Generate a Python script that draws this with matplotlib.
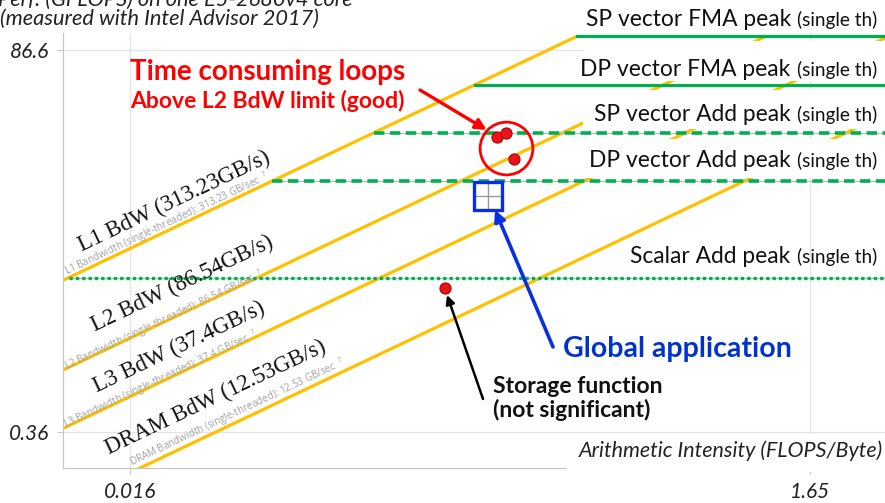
import math
import numpy as np
import matplotlib
matplotlib.use("Agg")
import matplotlib.pyplot as plt
from matplotlib.patches import Rectangle
from matplotlib.ticker import FixedLocator, NullLocator, FixedFormatter

W, H = 885, 503

# memory roofs (GB/s)
roof_names = ["L1", "L2", "L3", "DRAM"]
roof_bw = [313.23, 86.54, 37.4, 12.53]
roof_bw_txt = ["313.23", "86.54", "37.4", "12.53"]

# compute ceilings (GFLOPS)
peak_names = ["SP vector FMA peak", "DP vector FMA peak", "SP vector Add peak",
              "DP vector Add peak", "Scalar Add peak"]
peak_gflops = [105.6, 52.8, 26.4, 13.2, 3.3]
peak_style = ["solid", "solid", "dashed", "dashed", "dotted"]

# measured points (AI in FLOPS/Byte, perf in GFLOPS)
loops_ai = [0.195, 0.2075, 0.219]
loops_perf = [24.9, 26.3, 18.1]
storage_ai = [0.137]
storage_perf = [2.84]
app_ai = [0.1835]
app_perf = [10.66]

xticks = [0.016, 1.65]
yticks = [0.36, 86.6]
xlim = (0.010133, 2.749)
ylim = (0.2147, 110.6)

ORANGE = "#FFC000"
GREEN = "#00B050"
RED = "#FF0000"
BLUE = "#0a2ee0"
GRAY = "#a3a3a3"

plt.rcParams['font.family'] = ['Lato', 'DejaVu Sans']


def P(x, y):
    # figure pixel -> figure fraction
    return x / W, 1 - y / H


fig = plt.figure(figsize=(W / 100, H / 100), dpi=100)
ax = fig.add_axes([63 / W, 1 - 468 / H, (W - 63) / W, (468 - 33) / H])
ax.set_xscale("log")
ax.set_yscale("log")
ax.set_xlim(*xlim)
ax.set_ylim(*ylim)

ax.xaxis.set_major_locator(FixedLocator(xticks))
ax.yaxis.set_major_locator(FixedLocator(yticks))
ax.xaxis.set_minor_locator(NullLocator())
ax.yaxis.set_minor_locator(NullLocator())
ax.xaxis.set_major_formatter(FixedFormatter([str(v) for v in xticks]))
ax.yaxis.set_major_formatter(FixedFormatter([str(v) for v in yticks]))
ax.tick_params(length=4, color="#c8c8c8", labelsize=15, colors="#222222")
ax.tick_params(axis="y", pad=6)
ax.tick_params(axis="x", pad=6)
for lab in ax.get_xticklabels() + ax.get_yticklabels():
    lab.set_fontstyle("italic")
ax.grid(True, color="#e4e4e4", lw=0.9, zorder=0)
for s in ["top", "right"]:
    ax.spines[s].set_visible(False)
for s in ["left", "bottom"]:
    ax.spines[s].set_color("#c4c4c4")

top_peak = max(peak_gflops)

# memory roofs
for bw in roof_bw:
    x0 = xlim[0]
    x1 = min(xlim[1], top_peak / bw)
    ax.plot([x0, x1], [bw * x0, bw * x1], color=ORANGE, lw=2.3, zorder=2,
            solid_capstyle="butt")

# compute ceilings
for val, st in zip(peak_gflops, peak_style):
    x0 = val / roof_bw[0]
    if st == "solid":
        ax.plot([x0, xlim[1]], [val, val], color=GREEN, lw=2.3, zorder=2)
    elif st == "dashed":
        ax.plot([x0, xlim[1]], [val, val], color="#b8b8b8", lw=0.8, zorder=2)
        ax.plot([x0, xlim[1]], [val, val], color=GREEN, lw=2.6, zorder=2,
                ls=(0, (2.9, 1.5)))
    else:
        ax.plot([x0, xlim[1]], [val, val], color="#b8b8b8", lw=0.8, zorder=2)
        ax.plot([x0, xlim[1]], [val, val], color=GREEN, lw=2.4, zorder=2,
                ls=(0, (1.0, 0.9)))

# points
ax.plot(loops_ai, loops_perf, "o", ms=8, mfc="#e8141a", mec="#b00000",
        mew=0.8, zorder=5)
ax.plot(storage_ai, storage_perf, "o", ms=8, mfc="#e8141a", mec="#b00000",
        mew=0.8, zorder=5)
ax.plot(app_ai, app_perf, "+", ms=20, mec="#9a9a9a", mew=1.0, zorder=5)
ax.plot(app_ai, app_perf, "s", ms=20, mfc="none", mec=BLUE, mew=2.4, zorder=5)
ax.plot([np.mean(loops_ai)], [np.exp(np.mean(np.log(loops_perf))) * 0.93], "o",
        ms=38, mfc="none", mec=RED, mew=2.0, zorder=5)

# roof angle in display space
p1 = ax.transData.transform((0.02, 0.02 * 100))
p2 = ax.transData.transform((0.2, 0.2 * 100))
ang = math.degrees(math.atan2(p2[1] - p1[1], p2[0] - p1[0]))

# roof labels (big serif + small grey advisor labels)
big_xy = [(82, 252), (95, 332), (97, 393), (109, 455)]
small_xy = [(67, 275), (67, 370), (66, 428), (132, 466)]
for name, bwt, bxy, sxy in zip(roof_names, roof_bw_txt, big_xy, small_xy):
    fig.text(*P(*bxy), "%s BdW (%sGB/s)" % (name, bwt), family="Liberation Serif",
             fontsize=16.5, rotation=ang, rotation_mode="anchor", ha="left",
             va="baseline", color="#111111", zorder=6)
    fig.text(*P(*sxy), "%s Bandwidth (single-threaded): %s GB/sec  $^?$" % (name, bwt),
             family="Open Sans", fontsize=7.1, rotation=ang, rotation_mode="anchor",
             ha="left", va="baseline", color=GRAY, zorder=6)

# white boxes of the ceiling labels (hide roofs behind them)
boxes = [(583, 41, 885, 81), (583, 90, 885, 129), (583, 139, 885, 178),
         (567, 434, 885, 472)]
for x0, y0, x1, y1 in boxes:
    fig.add_artist(Rectangle(P(x0, y1), (x1 - x0) / W, (y1 - y0) / H,
                             transform=fig.transFigure, fc="white", ec="none",
                             zorder=3))

# ceiling labels
peak_base = [26, 76, 121, 167, 263]
fig.canvas.draw()
rend = fig.canvas.get_renderer()
for name, yb in zip(peak_names, peak_base):
    t = fig.text(*P(877, yb), "(single th)", fontsize=13.7, ha="right",
                 va="baseline", color="#111111", zorder=6)
    bb = t.get_window_extent(rend)
    fig.text(bb.x0 / W - 6 / W, 1 - yb / H, name, fontsize=16.4, ha="right",
             va="baseline", color="#111111", zorder=6)

# annotations
fig.text(*P(130, 80), "Time consuming loops", fontsize=20, fontweight="bold",
         color=RED, va="baseline", zorder=6)
fig.text(*P(130, 108), "Above L2 BdW limit (good)", fontsize=16.5, fontweight="bold",
         color=RED, va="baseline", zorder=6)
fig.text(*P(563, 357), "Global application", fontsize=20.5, fontweight="bold",
         color="#0033cc", va="baseline", zorder=6)
fig.text(*P(493, 393), "Storage function", fontsize=16.5, fontweight="bold",
         color="#111111", va="baseline", zorder=6)
fig.text(*P(493, 417), "(not significant)", fontsize=16.5, fontweight="bold",
         color="#111111", va="baseline", zorder=6)
fig.text(*P(883, 457), "Arithmetic Intensity (FLOPS/Byte)", fontsize=15.5,
         style="italic", ha="right", va="baseline", color="#222222", zorder=6)
fig.text(*P(-2, 6), "Perf. (GFLOPS) on one E5-2680v4 core", fontsize=15.7,
         style="italic", va="baseline", color="#222222", zorder=6)
fig.text(*P(0, 25), "(measured with Intel Advisor 2017)", fontsize=15.7,
         style="italic", va="baseline", color="#222222", zorder=6)

# arrows (tail AI/perf -> head AI/perf)
ax.annotate("", xy=(0.182, 27.5), xytext=(0.1155, 48.8),
            arrowprops=dict(arrowstyle="-|>", color=RED, lw=2.4,
                            mutation_scale=16, shrinkA=0, shrinkB=0), zorder=6)
ax.annotate("", xy=(0.1926, 8.72), xytext=(0.286, 1.22),
            arrowprops=dict(arrowstyle="-|>", color=BLUE, lw=2.6,
                            mutation_scale=16, shrinkA=0, shrinkB=0), zorder=6)
ax.annotate("", xy=(0.1389, 2.57), xytext=(0.1775, 0.578),
            arrowprops=dict(arrowstyle="-|>", color="black", lw=1.8,
                            mutation_scale=13, shrinkA=0, shrinkB=0), zorder=6)

fig.savefig("out.png", dpi=100)
